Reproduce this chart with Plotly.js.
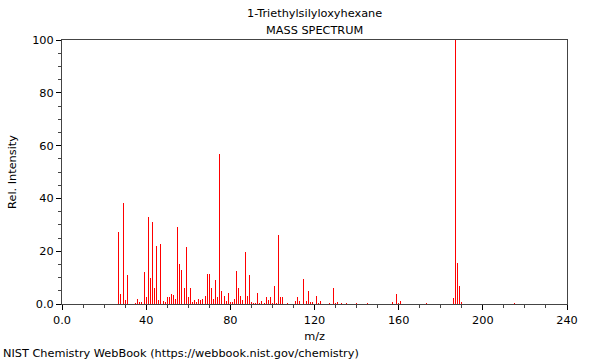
<!DOCTYPE html>
<html>
<head>
<meta charset="utf-8">
<script src="https://cdn.plot.ly/plotly-3.0.1.min.js"></script>
<style>html,body{margin:0;padding:0;background:#fff;}#chart{width:600px;height:360px;}</style>
</head>
<body>
<div id="chart"></div>
<script>
const mz = [27,28,29,30,31,35,36,37,38,39,40,41,42,43,44,45,46,47,48,49,50,51,52,53,54,55,56,57,58,59,60,61,62,63,64,65,66,67,68,69,70,71,72,73,74,75,76,77,78,79,80,81,82,83,84,85,86,87,88,89,90,91,92,93,94,95,96,97,98,99,100,101,102,103,104,105,107,111,112,113,115,116,117,118,119,121,122,123,127,129,130,131,133,135,140,145,157,159,160,161,173,186,187,188,189,190,215];
const intensity = [27.4,3.8,38.1,1.5,11,0.5,2,0.7,0.7,12,2.5,33,10,31,6,22,1.5,22.7,1,0.8,2.5,2.5,3.8,3.3,2,29,15,13,6,21.5,2.8,6,0.7,1.5,0.7,2,1.5,2,3,11.4,11.4,6,2,9,2.5,57,4.8,3,1,4,0.7,0.7,2,12.4,6,3,1.5,19.7,3,11,0.7,0.5,0.5,4,0.5,1,0.3,2.8,1.5,2.8,0.5,7,0.5,26,2.8,2.5,0.3,1,2.6,1,9.3,1.3,5,0.7,0.7,3,0.5,1,0.5,6,0.5,0.7,0.5,0.5,0.3,0.3,0.7,3.8,0.5,1.2,0.5,2.3,100,15.7,6.8,0.8,0.3];
const xTickVals = [0,40,80,120,160,200,240];
const xTickText = ["0.0","40","80","120","160","200","240"];
const yTickVals = [0,20,40,60,80,100];
const yTickText = ["0.0","20","40","60","80","100"];

const font = {family: "DejaVu Sans, sans-serif", size: 11.3, color: "#000"};
const trace = {x: mz, y: intensity, type: "bar", width: 0.475,
  marker: {color: "#ff0000", line: {width: 0}}, hoverinfo: "skip"};
const layout = {
  width: 600, height: 360,
  margin: {l: 62, r: 33, t: 40, b: 56},
  paper_bgcolor: "#fff", plot_bgcolor: "#fff",
  showlegend: false,
  font: font,
  bargap: 0,
  xaxis: {
    range: [0, 240], tickvals: xTickVals, ticktext: xTickText,
    ticks: "outside", ticklen: 5, tickcolor: "#000", showgrid: false, zeroline: false,
    showline: true, linecolor: "#444", linewidth: 1, mirror: true,
    minor: {dtick: 10, ticks: "outside", ticklen: 3, tickcolor: "#444"},
    title: {text: "m/z", font: font, standoff: 6},
    tickfont: font
  },
  yaxis: {
    range: [0, 100], tickvals: yTickVals, ticktext: yTickText,
    ticks: "outside", ticklen: 5, tickcolor: "#000", showgrid: false, zeroline: false,
    showline: true, linecolor: "#444", linewidth: 1, mirror: true,
    minor: {dtick: 5, ticks: "outside", ticklen: 3, tickcolor: "#444"},
    title: {text: "Rel. Intensity", font: font, standoff: 13},
    tickfont: font
  },
  annotations: [
    {text: "1-Triethylsilyloxyhexane", xref: "paper", yref: "paper", x: 0.5, y: 1, yshift: 27, xanchor: "center", yanchor: "middle", showarrow: false, font: font},
    {text: "MASS SPECTRUM", xref: "paper", yref: "paper", x: 0.5, y: 1, yshift: 10, xanchor: "center", yanchor: "middle", showarrow: false, font: font},
    {text: "NIST Chemistry WebBook (https://webbook.nist.gov/chemistry)", xref: "paper", yref: "paper", x: 0, xshift: -61, y: 0, yshift: -49, xanchor: "left", yanchor: "middle", showarrow: false, font: font}
  ]
};
Plotly.newPlot("chart", [trace], layout, {staticPlot: true, displayModeBar: false});
</script>
</body>
</html>
